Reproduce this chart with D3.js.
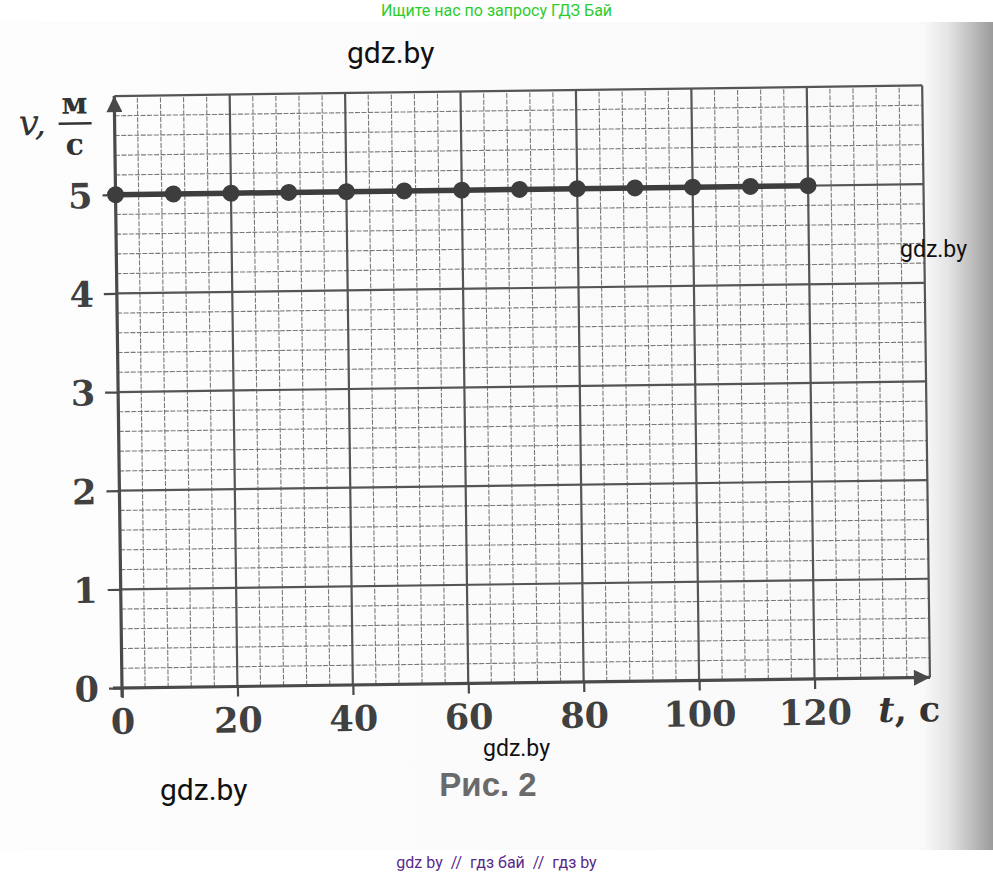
<!DOCTYPE html>
<html>
<head>
<meta charset="utf-8">
<script src="https://cdn.jsdelivr.net/npm/d3@7"></script>
<style>
  body { margin: 0; background: #fff; }
  svg { display: block; }
</style>
</head>
<body>
<svg></svg>
<script>
var width = 993;
var height = 875;

// data
var times = [0, 10, 20, 30, 40, 50, 60, 70, 80, 90, 100, 110, 120];
var speeds = [5, 5, 5, 5, 5, 5, 5, 5, 5, 5, 5, 5, 5];
var xLabels = [0, 20, 40, 60, 80, 100, 120];
var yLabels = [0, 1, 2, 3, 4, 5];
var xMax = 140, yMax = 6;

var svg = d3.select("svg")
    .attr("width", width)
    .attr("height", height)

var defs = svg.append("defs");
var grad = defs.append("linearGradient")
    .attr("id", "page")
    .attr("x1", 0).attr("x2", 1).attr("y1", 0).attr("y2", 0);
[[0, "#fdfdfd"], [0.93, "#f9f9f9"], [0.955, "#e4e4e4"], [0.975, "#c4c4c4"], [1, "#9a9a9a"]]
    .forEach(function(s){ grad.append("stop").attr("offset", s[0]).attr("stop-color", s[1]); });

defs.append("marker")
    .attr("id", "arrow")
    .attr("viewBox", "0 0 10 10")
    .attr("refX", 10).attr("refY", 5)
    .attr("markerWidth", 7).attr("markerHeight", 5)
    .attr("markerUnits", "strokeWidth")
    .attr("orient", "auto")
  .append("path")
    .attr("d", "M0,0 L10,5 L0,10 z")
    .attr("fill", "#4a4a4a");

// scanned page
svg.append("rect")
    .attr("x", 0).attr("y", 22)
    .attr("width", width).attr("height", 828)
    .attr("fill", "url(#page)");

var x = d3.scaleLinear([0, xMax], [122, 930]);
var y = d3.scaleLinear([0, yMax], [688, 96]);

var chart = svg.append("g")
    .attr("transform", "rotate(-0.75," + x(0) + "," + y(0) + ")");

var minorX = d3.range(0, xMax + 0.1, 4).filter(function(d){ return d % 20 !== 0; });
var minorY = d3.range(1, yMax * 5).map(function(d){ return d / 5; }).filter(function(d){ return d % 1 !== 0; });
var majorX = d3.range(20, xMax + 1, 20);
var majorY = d3.range(1, yMax + 1);

// minor grid
chart.append("g")
    .selectAll("line")
    .data(minorX)
    .enter()
    .append("line")
    .attr("x1", function(d){ return x(d); })
    .attr("x2", function(d){ return x(d); })
    .attr("y1", y(0))
    .attr("y2", y(yMax))
    .attr("stroke", "#7a7a7a")
    .attr("stroke-width", 1.1)
    .attr("stroke-dasharray", "5,1.5");

chart.append("g")
    .selectAll("line")
    .data(minorY)
    .enter()
    .append("line")
    .attr("y1", function(d){ return y(d); })
    .attr("y2", function(d){ return y(d); })
    .attr("x1", x(0))
    .attr("x2", x(xMax))
    .attr("stroke", "#7a7a7a")
    .attr("stroke-width", 1.1)
    .attr("stroke-dasharray", "5,1.5");

// major grid
chart.append("g")
    .selectAll("line")
    .data(majorX)
    .enter()
    .append("line")
    .attr("x1", function(d){ return x(d); })
    .attr("x2", function(d){ return x(d); })
    .attr("y1", y(0))
    .attr("y2", y(yMax))
    .attr("stroke", "#555")
    .attr("stroke-width", 2.2);

chart.append("g")
    .selectAll("line")
    .data(majorY)
    .enter()
    .append("line")
    .attr("y1", function(d){ return y(d); })
    .attr("y2", function(d){ return y(d); })
    .attr("x1", x(0))
    .attr("x2", x(xMax))
    .attr("stroke", "#555")
    .attr("stroke-width", 2.2);

// axes with tick labels
var xAxis = chart.append("g")
    .attr("transform", "translate(0," + y(0) + ")")
    .call(d3.axisBottom(x).tickValues(xLabels).tickSize(10).tickPadding(11).tickFormat(d3.format("d")));
var yAxis = chart.append("g")
    .attr("transform", "translate(" + x(0) + ",0)")
    .call(d3.axisLeft(y).tickValues(yLabels).tickSize(13).tickPadding(10).tickFormat(d3.format("d")));

[xAxis, yAxis].forEach(function(a){
    a.select(".domain").remove();
    a.selectAll(".tick line").attr("stroke", "#4a4a4a").attr("stroke-width", 2.2);
    a.selectAll(".tick text")
        .attr("fill", "#404040")
        .attr("font-family", "DejaVu Serif")
        .attr("font-weight", "bold")
        .attr("font-size", 35);
});
yAxis.selectAll(".tick text").attr("dy", "0.36em");

// axis lines with arrows
chart.append("line")
    .attr("x1", x(0) - 9).attr("x2", x(xMax))
    .attr("y1", y(0)).attr("y2", y(0))
    .attr("stroke", "#4a4a4a").attr("stroke-width", 3.2)
    .attr("marker-end", "url(#arrow)");
chart.append("line")
    .attr("x1", x(0)).attr("x2", x(0))
    .attr("y1", y(0) + 9).attr("y2", y(yMax))
    .attr("stroke", "#4a4a4a").attr("stroke-width", 3.2)
    .attr("marker-end", "url(#arrow)");

// data line and points
var line = d3.line()
    .x(function(d, i){ return x(times[i]); })
    .y(function(d){ return y(d); });

chart.append("path")
    .datum(speeds)
    .attr("d", line)
    .attr("fill", "none")
    .attr("stroke", "#3d3d3d")
    .attr("stroke-width", 5.5);

chart.append("g")
    .selectAll("circle")
    .data(speeds)
    .enter()
    .append("circle")
    .attr("cx", function(d, i){ return x(times[i]); })
    .attr("cy", function(d){ return y(d); })
    .attr("r", 8.5)
    .attr("fill", "#3d3d3d");

// axis titles
var yTitle = chart.append("g").attr("fill", "#333").attr("font-family", "DejaVu Serif");
yTitle.append("text")
    .attr("x", 26).attr("y", 134)
    .attr("font-style", "italic")
    .attr("font-size", 36)
    .text("v,");
yTitle.append("text")
    .attr("x", 82).attr("y", 113)
    .attr("text-anchor", "middle")
    .attr("font-weight", "bold")
    .attr("font-size", 30)
    .text("м");
yTitle.append("line")
    .attr("x1", 66).attr("x2", 99)
    .attr("y1", 123).attr("y2", 123)
    .attr("stroke", "#333").attr("stroke-width", 2.5);
yTitle.append("text")
    .attr("x", 82).attr("y", 154)
    .attr("text-anchor", "middle")
    .attr("font-weight", "bold")
    .attr("font-size", 30)
    .text("с");

var xTitle = chart.append("text")
    .attr("x", 878).attr("y", 732)
    .attr("fill", "#333")
    .attr("font-family", "DejaVu Serif")
    .attr("font-size", 35);
xTitle.append("tspan").attr("font-style", "italic").attr("font-weight", "bold").text("t");
xTitle.append("tspan").attr("font-weight", "bold").text(", с");

// caption
svg.append("text")
    .attr("x", 488).attr("y", 796)
    .attr("text-anchor", "middle")
    .attr("font-family", "Liberation Sans")
    .attr("font-weight", "bold")
    .attr("font-size", 33)
    .attr("fill", "#6a6a6a")
    .text("Рис. 2");

// site overlays
svg.append("text")
    .attr("x", width / 2).attr("y", 16)
    .attr("text-anchor", "middle")
    .attr("font-family", "Roboto")
    .attr("font-size", 16)
    .attr("fill", "#2dcc2d")
    .text("Ищите нас по запросу ГДЗ Бай");

var marks = [[347, 63, 30], [900, 257, 23], [483, 756, 23], [160, 800, 30]];
svg.append("g")
    .selectAll("text")
    .data(marks)
    .enter()
    .append("text")
    .attr("x", function(d){ return d[0]; })
    .attr("y", function(d){ return d[1]; })
    .attr("font-family", "Roboto")
    .attr("font-size", function(d){ return d[2]; })
    .attr("fill", "#111")
    .text("gdz.by");

svg.append("text")
    .attr("x", width / 2).attr("y", 868)
    .attr("text-anchor", "middle")
    .attr("font-family", "Roboto")
    .attr("font-size", 16)
    .attr("fill", "#5a2a8c")
    .attr("xml:space", "preserve")
    .text("gdz by  //  гдз бай  //  гдз by");
</script>
</body>
</html>
